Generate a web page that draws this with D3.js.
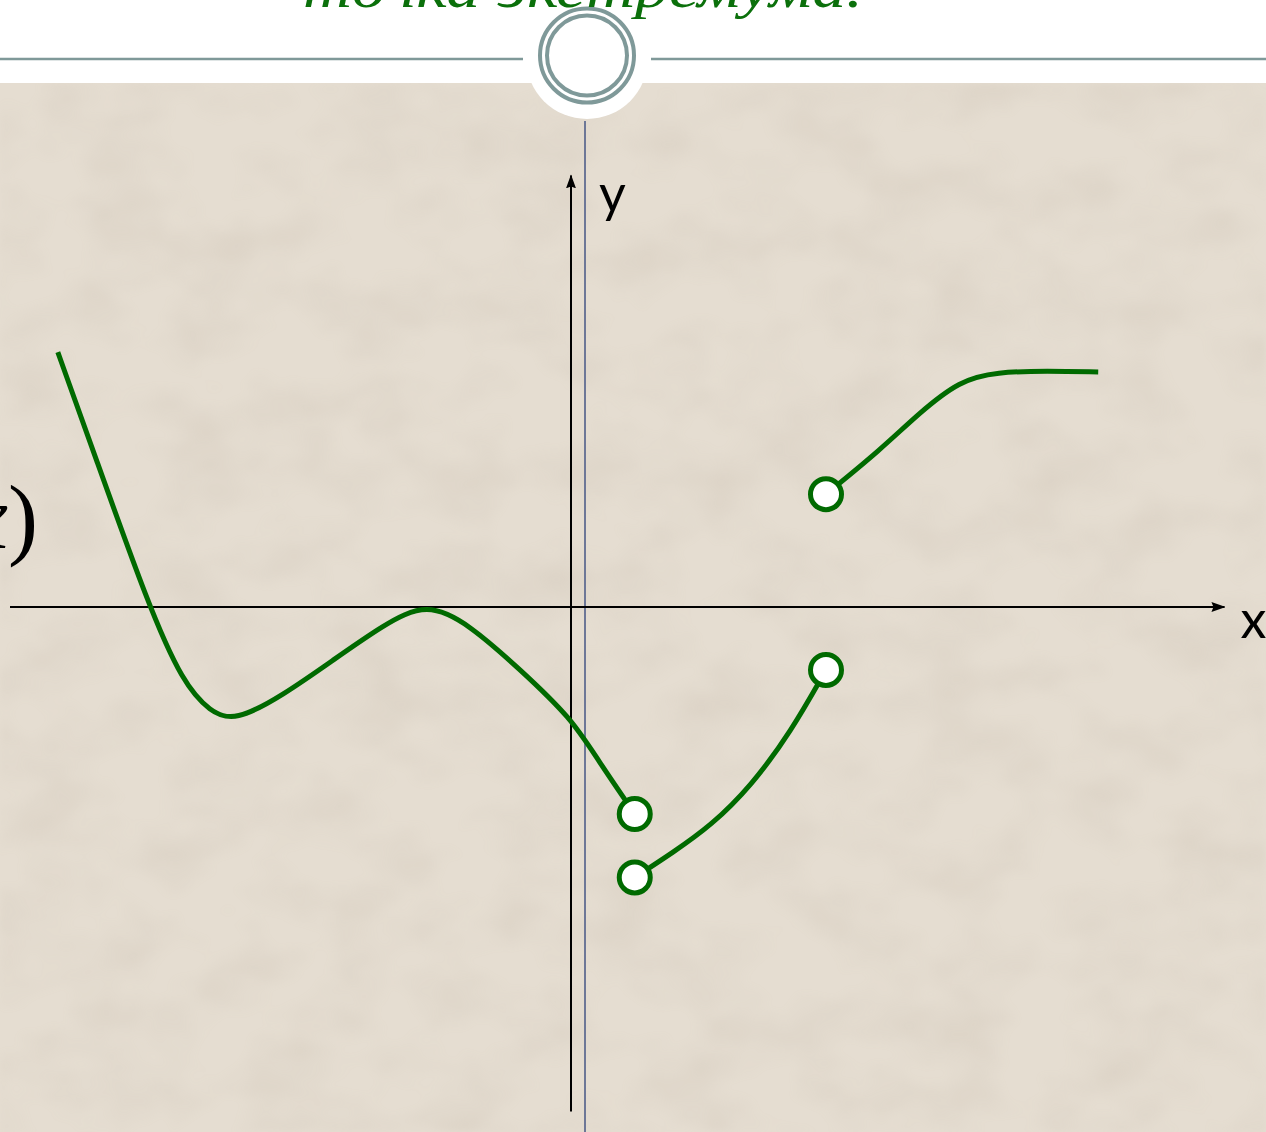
<!DOCTYPE html>
<meta charset="utf-8">
<style>
body { margin: 0; background: #fff; }
svg { display: block; }
.curve { fill: none; stroke: #006a00; stroke-width: 5; stroke-linecap: butt; }
.hole { fill: #fff; stroke: #006a00; stroke-width: 5; }
.axis-line { stroke: #000; stroke-width: 2; }
.axis-label { font-family: Lato, "Open Sans", sans-serif; font-size: 52px; fill: #000; }
</style>
<body>
<div id="chart"></div>
<script src="https://d3js.org/d3.v7.min.js"></script>
<script>

// pieces of the function graph (x, y in axis units), used as spline control points
var branchA = [[-8.05, 4.90], [-7.50, 3.02], [-6.62, 0], [-6.09, -1.45], [-5.66, -2.02],
               [-5.27, -2.20], [-4.52, -1.70], [-3.73, -1.02], [-2.95, -0.35], [-2.26, 0.10],
               [-1.58, -0.35], [-0.80, -1.20], [0, -2.13], [0.42, -2.94], [1.0, -3.98]];
var branchB = [[1.0, -5.20], [1.6, -4.72], [2.2, -4.20], [2.82, -3.45], [3.45, -2.40], [4.0, -1.21]];
var branchC = [[4.0, 2.17], [4.85, 3.02], [5.45, 3.72], [6.10, 4.36], [6.68, 4.52],
               [7.47, 4.54], [8.27, 4.52]];
// open (hollow) end points
var holes = [[1.0, -3.98], [1.0, -5.20], [4.0, -1.21], [4.0, 2.17]];

var titleText = "точка экстремума.";
var xLabel = "x", yLabel = "y";

var width = 1266, height = 1132;
var x0 = 571, y0 = 607;   // where the axes cross
var ux = 63.75, uy = 52;  // pixels per unit

var x = d3.scaleLinear().domain([-10, 10]).range([x0 - 10 * ux, x0 + 10 * ux]);
var y = d3.scaleLinear().domain([-10, 10]).range([y0 + 10 * uy, y0 - 10 * uy]);

var svg = d3.select("#chart").append("svg")
    .attr("width", width)
    .attr("height", height);

var defs = svg.append("defs");
defs.append("marker")
    .attr("id", "arrow")
    .attr("viewBox", "0 0 14 10")
    .attr("refX", 13).attr("refY", 5)
    .attr("markerWidth", 14).attr("markerHeight", 10)
    .attr("markerUnits", "userSpaceOnUse")
    .attr("orient", "auto")
  .append("path")
    .attr("d", "M0,0L14,5L0,10L2,5Z")
    .attr("fill", "#000");

// blotchy paper texture
var f = defs.append("filter").attr("id", "paper")
    .attr("x", 0).attr("y", 0).attr("width", "100%").attr("height", "100%");
f.append("feTurbulence").attr("type", "fractalNoise")
    .attr("baseFrequency", "0.012 0.018").attr("numOctaves", 3).attr("seed", 7);
f.append("feColorMatrix").attr("type", "matrix")
    .attr("values", "0 0 0 0 0.45  0 0 0 0 0.38  0 0 0 0 0.30  0 0 0 -0.9 0.55");
f.append("feGaussianBlur").attr("stdDeviation", 3);

// slide background
svg.append("rect").attr("width", width).attr("height", height).attr("fill", "#fff");
svg.append("rect").attr("y", 83).attr("width", width).attr("height", height - 83)
    .attr("fill", "#e5ddd1");
svg.append("rect").attr("y", 83).attr("width", width).attr("height", height - 83)
    .attr("filter", "url(#paper)").attr("opacity", 0.35);

// header rule with ring ornament
svg.append("line").attr("x1", 0).attr("x2", 523).attr("y1", 59).attr("y2", 59)
    .attr("stroke", "#7f9999").attr("stroke-width", 2.5);
svg.append("line").attr("x1", 651).attr("x2", width).attr("y1", 59).attr("y2", 59)
    .attr("stroke", "#7f9999").attr("stroke-width", 2.5);
svg.append("circle").attr("cx", 587).attr("cy", 58).attr("r", 61).attr("fill", "#fff");
svg.append("circle").attr("cx", 587).attr("cy", 55.5).attr("r", 47)
    .attr("fill", "none").attr("stroke", "#7f9999").attr("stroke-width", 4);
svg.append("circle").attr("cx", 587).attr("cy", 55.5).attr("r", 40)
    .attr("fill", "none").attr("stroke", "#7f9999").attr("stroke-width", 4);

// header text (cut off by the top edge)
svg.append("text")
    .attr("x", 303).attr("y", 7)
    .attr("textLength", 560).attr("lengthAdjust", "spacingAndGlyphs")
    .style("font-family", "'Liberation Serif', 'DejaVu Serif', serif")
    .style("font-style", "italic")
    .style("font-size", "56px")
    .style("fill", "#0b700b")
    .text(titleText);

// thin vertical guide line from the ornament
svg.append("line").attr("x1", 585).attr("x2", 585).attr("y1", 121).attr("y2", height)
    .attr("stroke", "#6d7797").attr("stroke-width", 2);

// axes
svg.append("line").attr("class", "axis-line")
    .attr("x1", x(-8.8)).attr("x2", x(10.25)).attr("y1", y(0)).attr("y2", y(0))
    .attr("marker-end", "url(#arrow)");
svg.append("line").attr("class", "axis-line")
    .attr("x1", x(0)).attr("x2", x(0)).attr("y1", y(-9.7)).attr("y2", y(8.3))
    .attr("marker-end", "url(#arrow)");

svg.append("text").attr("class", "axis-label")
    .attr("x", x(0) + 28).attr("y", y(7.6)).text(yLabel);
svg.append("text").attr("class", "axis-label")
    .attr("x", x(10.5)).attr("y", y(-0.6)).text(xLabel);

// function name, mostly outside the left edge
var fn = svg.append("text")
    .attr("x", 38).attr("y", 548)
    .attr("text-anchor", "end")
    .style("font-family", "'Liberation Serif', 'DejaVu Serif', serif")
    .style("font-size", "90px")
    .style("fill", "#000");
fn.append("tspan").text("(");
fn.append("tspan").style("font-style", "italic").text("x");
fn.append("tspan").text(")");

// graph branches
var line = d3.line()
    .x(function(d) { return x(d[0]); })
    .y(function(d) { return y(d[1]); })
    .curve(d3.curveBasis);

svg.selectAll(".curve")
    .data([branchA, branchB, branchC])
    .enter().append("path")
    .attr("class", "curve")
    .attr("d", line);

svg.selectAll(".hole")
    .data(holes)
    .enter().append("circle")
    .attr("class", "hole")
    .attr("cx", function(d) { return x(d[0]); })
    .attr("cy", function(d) { return y(d[1]); })
    .attr("r", 15.5);

</script>
</body>
